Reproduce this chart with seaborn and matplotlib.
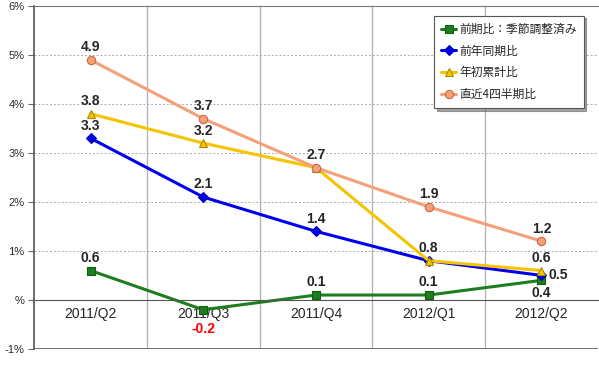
import pandas as pd
import matplotlib
matplotlib.use("Agg")
import matplotlib.pyplot as plt
import seaborn as sns
from matplotlib.ticker import FixedLocator

# data
quarters = ["2011/Q2", "2011/Q3", "2011/Q4", "2012/Q1", "2012/Q2"]
series_names = ["前期比：季節調整済み", "前年同期比", "年初累計比", "直近4四半期比"]
qoq = [0.6, -0.2, 0.1, 0.1, 0.4]
yoy = [3.3, 2.1, 1.4, 0.8, 0.5]
ytd = [3.8, 3.2, 2.7, 0.8, 0.6]
last4 = [4.9, 3.7, 2.7, 1.9, 1.2]
y_ticks = [-1, 0, 1, 2, 3, 4, 5, 6]
y_labels = ["-1%", "%", "1%", "2%", "3%", "4%", "5%", "6%"]

sns.set_style("white")
plt.rcParams["font.family"] = ["Liberation Sans", "Noto Sans CJK JP", "DejaVu Sans"]

fig = plt.figure(figsize=(5.99, 3.72), dpi=100)
ax = fig.add_axes([0.057, 0.062, 0.941, 0.922])

styles = [
    (qoq, "#1e7d1e", "s", "#0f5f0f"),
    (yoy, "#0000ee", "D", "#0000aa"),
    (ytd, "#f5c400", "^", "#b08a00"),
    (last4, "#f4a07a", "o", "#c86a3c"),
]
x = list(range(len(quarters)))
for name, (vals, col, mk, edge) in zip(series_names, styles):
    sns.lineplot(x=x, y=vals, ax=ax, color=col, marker=mk, markersize=6 if mk != "D" else 5,
                 markeredgecolor=edge, markeredgewidth=0.8, linewidth=2.2, label=name)

# data labels
lab = dict(fontsize=10, fontweight="bold", ha="center")


def above(i, v, dy=4, **kw):
    ax.annotate(f"{v}", (i, v), xytext=(0, dy), textcoords="offset points", va="bottom", **lab, **kw)


for i, v in enumerate(last4):
    above(i, v)
for i, v in enumerate(ytd):
    if i in (2, 3):
        continue
    above(i, v)
for i, v in enumerate(yoy):
    if i == 4:
        ax.annotate(f"{v}", (i, v), xytext=(5, 0), textcoords="offset points", va="center",
                    fontsize=10, fontweight="bold", ha="left")
    else:
        above(i, v)
for i, v in enumerate(qoq):
    if i == 1:
        ax.annotate(f"{v}", (i, v), xytext=(0, -8.5), textcoords="offset points", va="top",
                    color="red", **lab)
    elif i == 4:
        ax.annotate(f"{v}", (i, v), xytext=(0, -4), textcoords="offset points", va="top", **lab)
    else:
        above(i, v)

ax.set_xlim(-0.5, len(quarters) - 0.5)
ax.set_ylim(-1, 6)
ax.set_xticks(x)
ax.set_xticklabels(quarters, fontsize=7.5)
ax.xaxis.set_minor_locator(FixedLocator([0.5, 1.5, 2.5, 3.5]))
ax.set_yticks(y_ticks)
ax.set_yticklabels(y_labels, fontsize=8)
ax.tick_params(axis="x", which="major", length=0, pad=5)
ax.tick_params(axis="x", which="minor", length=0)
ax.tick_params(axis="y", length=4, color="#666666", direction="out", left=True, pad=3)

ax.grid(axis="x", which="minor", color="#b0b0b0", linewidth=0.9, linestyle="-")
ax.grid(axis="y", which="major", color="#aaaaaa", linewidth=0.7, linestyle=(0, (2, 2)))
ax.set_axisbelow(True)

ax.spines["bottom"].set_position(("data", 0))
ax.spines["bottom"].set_color("#555555")
ax.spines["left"].set_color("#555555")
ax.spines["left"].set_linewidth(1.2)
ax.spines["top"].set_color("#777777")
ax.spines["right"].set_visible(False)
ax.axhline(-1, color="#555555", linewidth=1.2, zorder=1)

leg = ax.legend(loc="upper right", bbox_to_anchor=(0.975, 0.972), borderaxespad=0,
                frameon=True, fancybox=False, shadow=True, edgecolor="#555555",
                handlelength=1.2, handletextpad=0.3, labelspacing=0.75, borderpad=0.6,
                prop={"family": ["Noto Sans CJK JP", "DejaVu Sans"], "size": 8.5})
leg.get_frame().set_linewidth(0.8)

fig.savefig("out.png", dpi=100)
